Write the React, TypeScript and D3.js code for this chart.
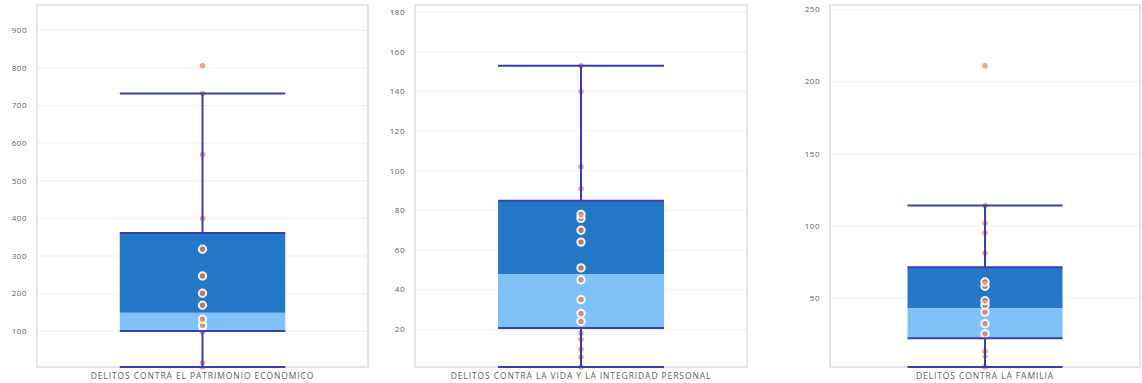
import React from "react";
import * as d3 from "d3";

const categories = [
  "DELITOS CONTRA EL PATRIMONIO ECONOMICO",
  "DELITOS CONTRA LA VIDA Y LA INTEGRIDAD PERSONAL",
  "DELITOS CONTRA LA FAMILIA",
];
const q1Values = [101, 20.7, 21.9];
const medianValues = [149, 47.9, 42.7];
const q3Values = [361, 84.9, 71.2];
const whiskerLowValues = [5, 1, 2];
const whiskerHighValues = [732, 153, 114];

const pointsPatrimonio = [5, 16, 99, 115, 132, 169, 201, 247, 318, 400, 570, 732, 806];
const pointsVida = [1, 6, 10, 15, 18, 24, 28, 35, 45, 51, 64, 70, 76, 78, 91, 102, 140, 153];
const pointsFamilia = [2, 10, 13, 25, 32, 40, 45, 48, 58, 61, 81, 95, 102, 114, 211];

const ticksPatrimonio = [100, 200, 300, 400, 500, 600, 700, 800, 900];
const ticksVida = [20, 40, 60, 80, 100, 120, 140, 160, 180];
const ticksFamilia = [50, 100, 150, 200, 250];

const allPoints = [pointsPatrimonio, pointsVida, pointsFamilia];
const allTicks = [ticksPatrimonio, ticksVida, ticksFamilia];

const W = 1142;
const H = 383;
const TOP = 5;
const BOTTOM = 367;
const panels = [
  { left: 37, right: 368 },
  { left: 415, right: 747 },
  { left: 830, right: 1140 },
];

const DARK = "#2577c8";
const LIGHT = "#7fc2fa";
const LINE = "#3b3db6";
const POINT = "#f07c4c";
const GRID = "#efefef";
const FRAME = "#dcdcdc";
const TEXT = "#5e5e5e";
const FONT = "'Open Sans', 'DejaVu Sans', sans-serif";

function Panel({ i }: { i: number }) {
  const { left, right } = panels[i];
  const pts = allPoints[i];
  const ticks = allTicks[i];
  const y = d3
    .scaleLinear()
    .domain([d3.min(pts) as number, (d3.max(pts) as number) * 1.2])
    .range([BOTTOM, TOP]);
  const x = d3
    .scaleBand()
    .domain([categories[i]])
    .range([left, right])
    .paddingInner(0.5)
    .paddingOuter(0.25);
  const bx = x(categories[i]) as number;
  const bw = x.bandwidth();
  const cx = bx + bw / 2;
  const q1 = y(q1Values[i]);
  const med = y(medianValues[i]);
  const q3 = y(q3Values[i]);
  const wl = y(whiskerLowValues[i]);
  const wh = y(whiskerHighValues[i]);
  return (
    <g>
      {ticks.map((t) => (
        <g key={t}>
          <line x1={left} x2={right} y1={y(t)} y2={y(t)} stroke={GRID} strokeWidth={1} />
          <text
            x={left - 10}
            y={y(t)}
            dy="0.35em"
            textAnchor="end"
            fontSize={8}
            letterSpacing={0.5}
            fill={TEXT}
            fontFamily={FONT}
          >
            {t}
          </text>
        </g>
      ))}
      <line x1={left} x2={left} y1={TOP} y2={BOTTOM} stroke={FRAME} strokeWidth={1.5} />
      <line x1={right} x2={right} y1={TOP} y2={BOTTOM} stroke={FRAME} strokeWidth={1.5} />
      <line x1={left} x2={right} y1={TOP} y2={TOP} stroke={FRAME} strokeWidth={1.5} />
      <line x1={left} x2={right} y1={BOTTOM} y2={BOTTOM} stroke={FRAME} strokeWidth={1.5} />
      <rect x={bx} y={q3} width={bw} height={med - q3} fill={DARK} />
      <rect x={bx} y={med} width={bw} height={q1 - med} fill={LIGHT} />
      {pts.map((p, k) => (
        <circle
          key={k}
          cx={cx}
          cy={y(p)}
          r={3.7}
          fill={POINT}
          fillOpacity={0.7}
          stroke="#fff"
          strokeOpacity={0.9}
          strokeWidth={2}
        />
      ))}
      <line x1={cx} x2={cx} y1={q3} y2={wh} stroke={LINE} strokeWidth={2} />
      <line x1={cx} x2={cx} y1={q1} y2={wl} stroke={LINE} strokeWidth={2} />
      <line x1={bx} x2={bx + bw} y1={wh} y2={wh} stroke={LINE} strokeWidth={2} />
      <line x1={bx} x2={bx + bw} y1={wl} y2={wl} stroke={LINE} strokeWidth={2} />
      <line x1={bx} x2={bx + bw} y1={q3} y2={q3} stroke={LINE} strokeWidth={2} />
      <line x1={bx} x2={bx + bw} y1={q1} y2={q1} stroke={LINE} strokeWidth={2} />
      <text
        x={(left + right) / 2}
        y={379}
        textAnchor="middle"
        fontSize={8.5}
        letterSpacing={0.9}
        fill={TEXT}
        fontFamily={FONT}
      >
        {categories[i]}
      </text>
    </g>
  );
}

export default function App() {
  return (
    <div style={{ position: "absolute", left: 0, top: 0 }}>
      <svg width={W} height={H} style={{ display: "block", background: "#fff" }}>
        {categories.map((_, i) => (
          <Panel key={i} i={i} />
        ))}
      </svg>
    </div>
  );
}
